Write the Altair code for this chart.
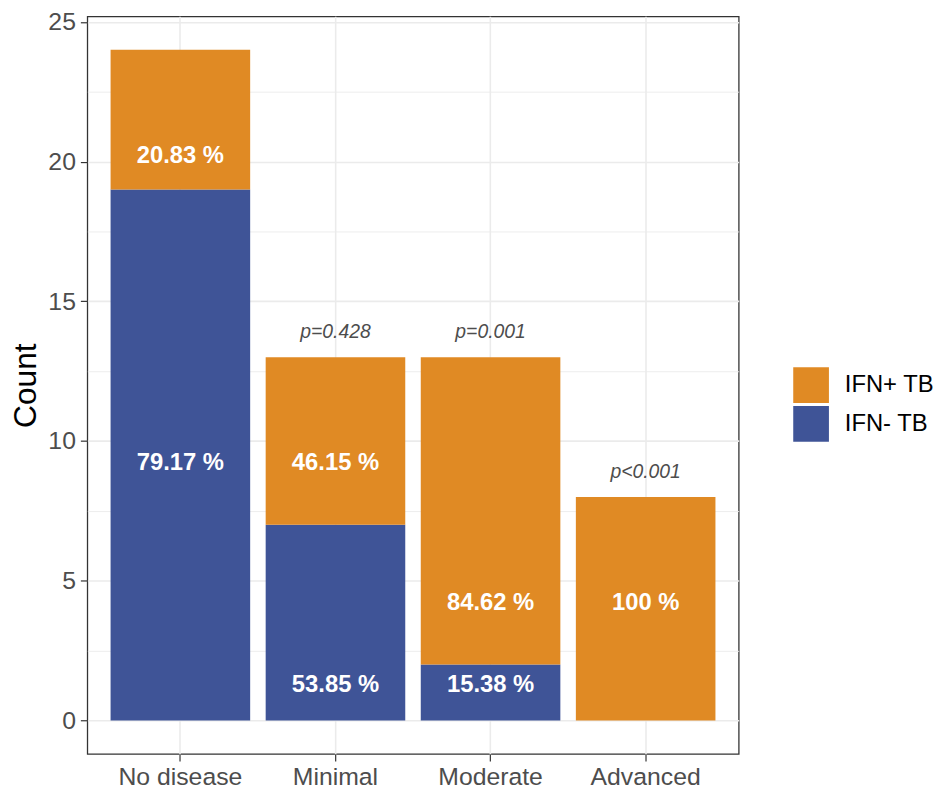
import altair as alt
import pandas as pd

categories = ["No disease", "Minimal", "Moderate", "Advanced"]
ifn_neg = [19, 7, 2, 0]
ifn_pos = [5, 6, 11, 8]
neg_labels = ["79.17 %", "53.85 %", "15.38 %", ""]
pos_labels = ["20.83 %", "46.15 %", "84.62 %", "100 %"]
neg_label_y = [9.2, 1.25, 1.25, None]
pos_label_y = [20.2, 9.2, 4.2, 4.2]
p_cats = ["Minimal", "Moderate", "Advanced"]
p_texts = ["p=0.428", "p=0.001", "p<0.001"]
p_y = [13.9, 13.9, 8.9]

groups = ["IFN+ TB", "IFN- TB"]
colors = ["#E08A24", "#3F5497"]

rows = []
for i, c in enumerate(categories):
    rows.append({"cat": c, "grp": "IFN- TB", "n": ifn_neg[i], "ord": 0,
                 "lab": neg_labels[i], "ly": neg_label_y[i]})
    rows.append({"cat": c, "grp": "IFN+ TB", "n": ifn_pos[i], "ord": 1,
                 "lab": pos_labels[i], "ly": pos_label_y[i]})
df = pd.DataFrame(rows)
pdf = pd.DataFrame({"cat": p_cats, "txt": p_texts, "y": p_y})

FONT = "Liberation Sans"

xenc = alt.X("cat:N", sort=categories, title=None,
             scale=alt.Scale(paddingInner=0.1, paddingOuter=0.15),
             axis=alt.Axis(labelFontSize=25, labelColor="#4D4D4D", labelFont=FONT,
                           tickColor="#333333", tickSize=7, tickWidth=1.2,
                           labelPadding=4, domain=False, grid=True,
                           gridColor="#EBEBEB", gridWidth=1.6, labelAngle=0))
yscale = alt.Scale(domain=[-1.2, 25.2], nice=False, zero=False)

bars = alt.Chart(df).mark_bar().encode(
    x=xenc,
    y=alt.Y("n:Q", stack="zero", scale=yscale, title="Count",
            axis=alt.Axis(values=[0, 5, 10, 15, 20, 25], labelFontSize=25,
                          labelColor="#4D4D4D", labelFont=FONT, titleFont=FONT,
                          titleFontSize=32, titleFontWeight="normal", titleColor="black",
                          titlePadding=5, tickColor="#333333", tickSize=7,
                          tickWidth=1.2, labelPadding=5, domain=False, grid=True,
                          gridColor="#EBEBEB", gridWidth=1.6)),
    color=alt.Color("grp:N", scale=alt.Scale(domain=groups, range=colors),
                    legend=alt.Legend(title=None, orient="none", legendX=712,
                                      legendY=354, symbolType="square",
                                      symbolSize=1296, symbolStrokeWidth=0,
                                      labelFontSize=24, labelFont=FONT,
                                      labelColor="black", labelOffset=16,
                                      rowPadding=3, padding=0)),
    order=alt.Order("ord:Q", sort="ascending"),
)

labels = alt.Chart(df).mark_text(color="white", fontWeight="bold", fontSize=24,
                                 font=FONT, baseline="middle").encode(
    x=alt.X("cat:N", sort=categories),
    y=alt.Y("ly:Q", scale=yscale,
            axis=alt.Axis(values=[2.5, 7.5, 12.5, 17.5, 22.5], labels=False,
                          ticks=False, domain=False, title=None, grid=True,
                          gridColor="#EBEBEB", gridWidth=0.9, orient="left")),
    text="lab:N",
)

pvals = alt.Chart(pdf).mark_text(color="#4D4D4D", fontStyle="italic", fontSize=19.5,
                                 font=FONT, baseline="middle").encode(
    x=alt.X("cat:N", sort=categories),
    y=alt.Y("y:Q", scale=yscale, axis=None),
    text="txt:N",
)

chart = alt.layer(bars, labels, pvals).resolve_axis(y="independent").properties(
    width=657, height=744,
    background="white",
    autosize=alt.AutoSizeParams(type="none"),
    padding={"left": 80, "top": 5, "right": 200, "bottom": 40},
).configure_view(stroke="#333333", strokeWidth=1.3, fill="white")

chart.save("out.html", embed_options={"renderer": "svg", "actions": False})
